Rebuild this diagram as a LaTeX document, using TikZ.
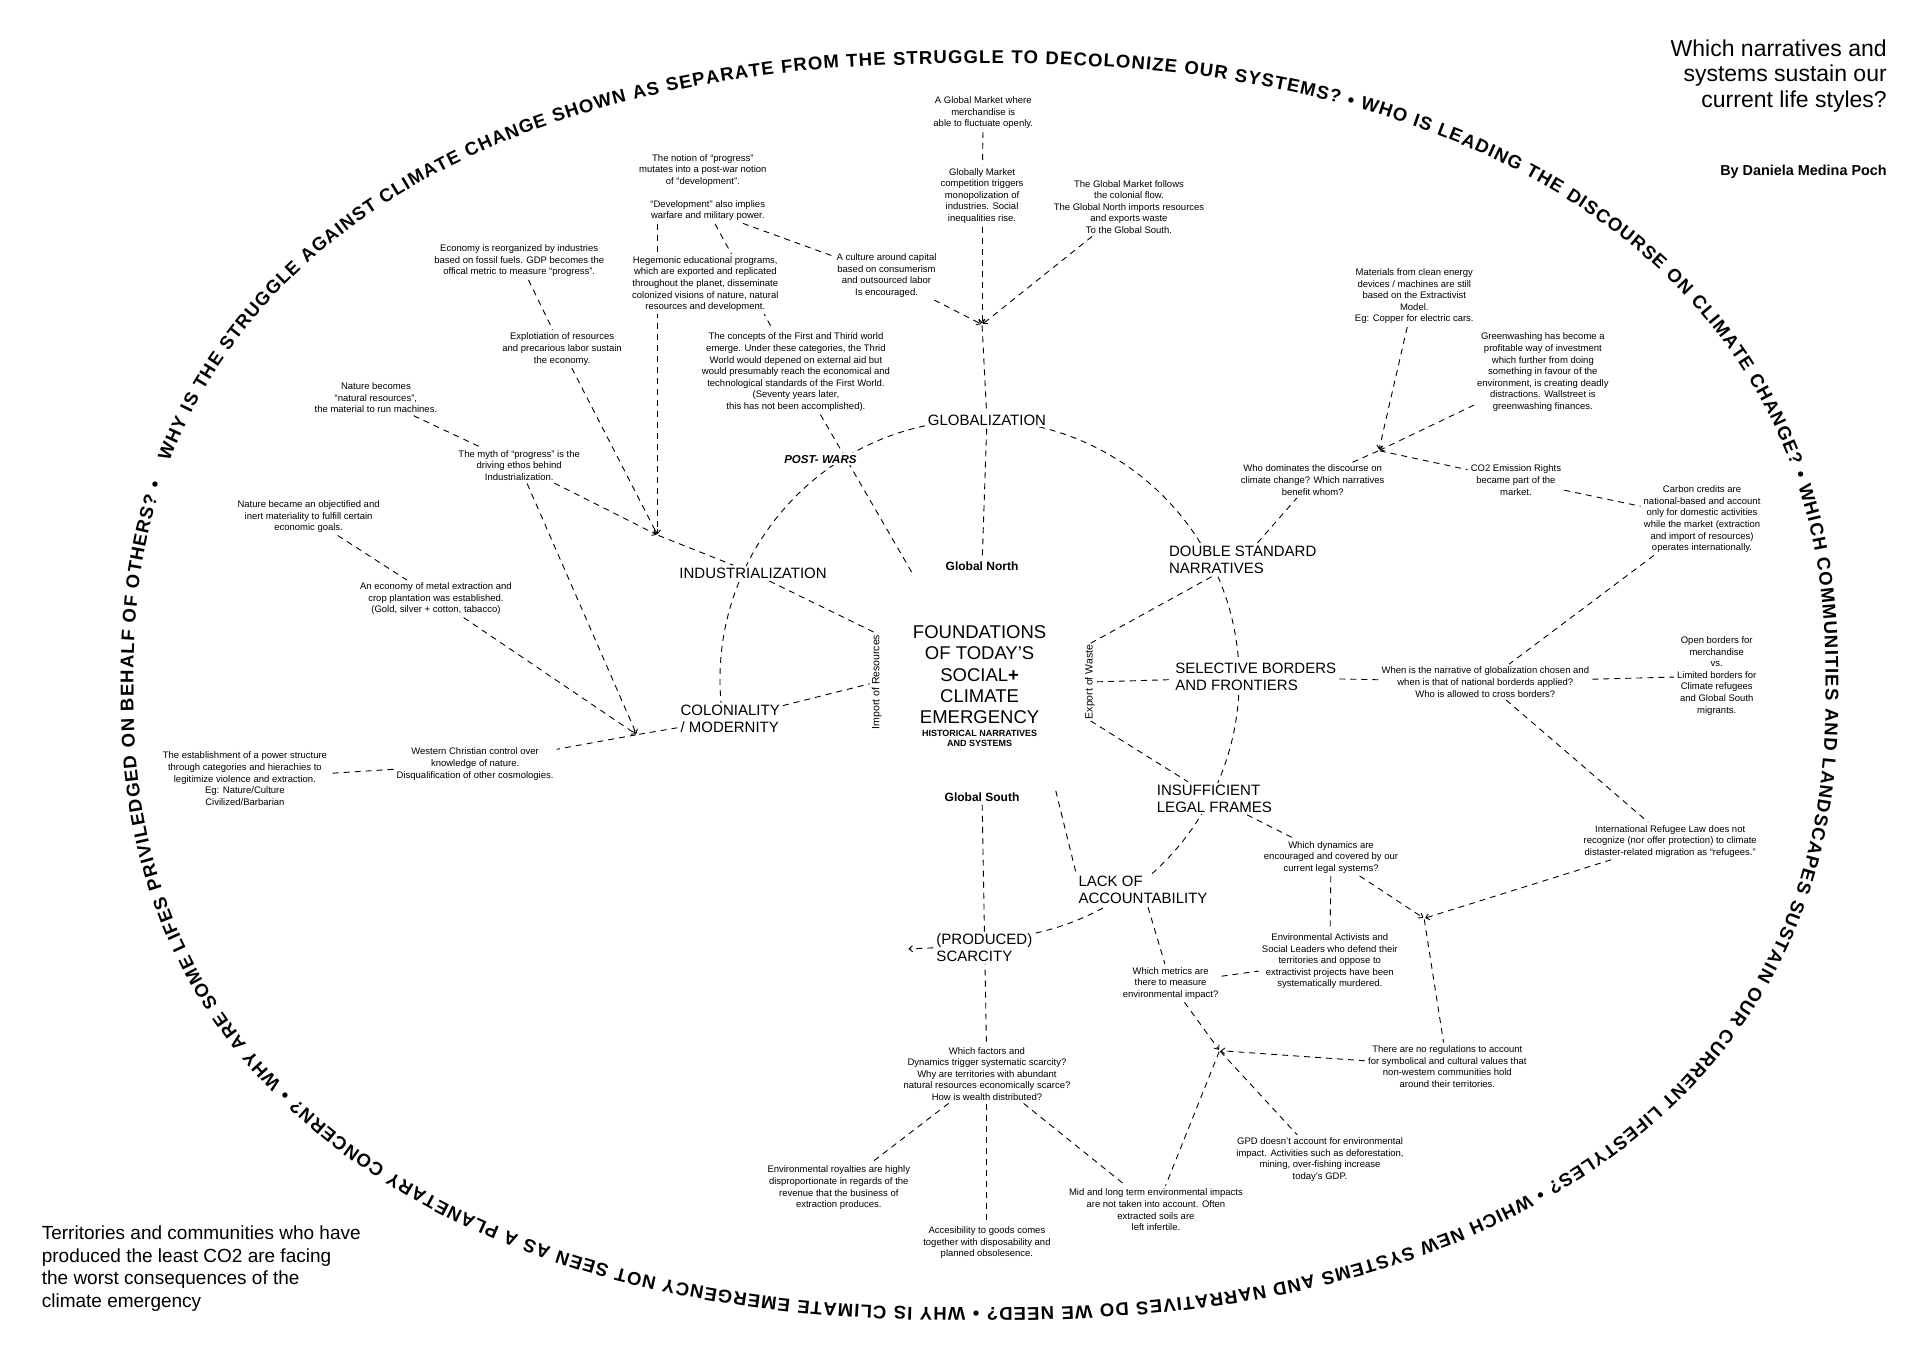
\documentclass[tikz,border=0pt]{standalone}
\usepackage{fontspec}
\setmainfont{Liberation Sans}
\usetikzlibrary{arrows.meta,decorations.text,backgrounds}
\tikzset{
    small-note/.style = {fill=white, inner sep=2pt, align=center, font=\fontsize{9.5}{11.6}\selectfont},
    theme-label/.style = {fill=white, inner sep=2pt, align=left, anchor=west, font=\fontsize{15}{17}\selectfont},
    core-title/.style = {fill=white, inner sep=2pt, align=center, font=\fontsize{18.5}{21.1}\selectfont},
    pole-label/.style = {fill=white, inner sep=2pt, font=\bfseries\fontsize{12}{14}\selectfont},
    flow-label/.style = {inner sep=1pt, rotate=90, font=\fontsize{10.5}{12}\selectfont},
    flow-link/.style = {draw, line width=0.9pt, dash pattern=on 6pt off 5pt, shorten >=1pt, shorten <=1pt},
    flow-into/.style = {-{Straight Barb[length=3.5pt, width=6pt]}},
    era-arc/.style = {draw, line width=0.9pt, dash pattern=on 6pt off 5pt},
}

\begin{document}
\begin{tikzpicture}[x=1.2245pt, y=1.2245pt]
\useasboundingbox (0,0) rectangle (1568,-1109);

\begin{scope}[shift={(800,-560)},
    declare function={supx(\t)=(cos(\t)<0 ? -1 : 1)*(abs(cos(\t))+0.00001)^0.87;
                       supy(\t)=(sin(\t)<0 ? -1 : 1)*(abs(sin(\t))+0.00001)^0.87;}]
\path [decorate, decoration={text along path, text align=fit to path,
    text={|\bfseries\fontsize{18.5}{18.5}\selectfont|WHY IS THE STRUGGLE AGAINST CLIMATE CHANGE SHOWN AS SEPARATE FROM THE STRUGGLE TO DECOLONIZE OUR SYSTEMS? • WHO IS LEADING THE DISCOURSE ON CLIMATE CHANGE? • WHICH COMMUNITIES AND LANDSCAPES SUSTAIN OUR CURRENT LIFESTYLES? • WHICH NEW SYSTEMS AND NARRATIVES DO WE NEED? • WHY IS CLIMATE EMERGENCY NOT SEEN AS A PLANETARY CONCERN? • WHY ARE SOME LIFES PRIVILEDGED ON BEHALF OF OTHERS? •}}]
    plot [domain=-162:196, samples=359] ({691*supx(-\x)}, {508*supy(-\x)});
\end{scope}

\node [anchor=east, align=right, inner sep=0pt, font=\fontsize{23}{25.5}\selectfont] (title) at (1541,-62) {Which narratives and\\systems sustain our\\current life styles?};
\node [anchor=east, inner sep=0pt, font=\bfseries\fontsize{14.4}{16}\selectfont] (byline) at (1541,-140) {By Daniela Medina Poch};
\node [anchor=west, align=left, inner sep=0pt, font=\fontsize{19}{22.4}\selectfont] (claim) at (34,-1036) {Territories and communities who have\\produced the least CO2 are facing\\the worst consequences of the\\climate emergency};

\coordinate (hub) at (800,-555);
\coordinate (jglob) at (802,-265);
\coordinate (jind) at (537,-437);
\coordinate (jcol) at (520,-600);
\coordinate (jdis) at (1126,-368);
\coordinate (jleg) at (1163,-750);
\coordinate (jgdp) at (996,-858);
\coordinate (postend) at (745,-468);
\coordinate (southspoke) at (862,-645);
\coordinate (flowend) at (741,-775);

\node [core-title] (found) at (800,-551) {FOUNDATIONS\\OF TODAY’S\\SOCIAL\textbf{+}\\CLIMATE\\EMERGENCY};
\node [small-note, font=\bfseries\fontsize{9}{10.7}\selectfont, inner sep=0pt] (foundsub) at (800,-603) {HISTORICAL NARRATIVES\\AND SYSTEMS};
\node [flow-label] (import) at (716,-557) {Import of Resources};
\node [flow-label] (export) at (890,-557) {Export of Waste};
\node [pole-label] (gnorth) at (802,-462) {Global North};
\node [pole-label] (gsouth) at (802,-651) {Global South};

\node [theme-label, anchor=center] (glob) at (806,-343) {GLOBALIZATION};
\node [theme-label, anchor=center, font=\bfseries\itshape\fontsize{11.5}{13}\selectfont] (postwars) at (670,-375) {POST- WARS};
\node [theme-label, anchor=center] (indust) at (615,-468) {INDUSTRIALIZATION};
\node [theme-label] (colon) at (554,-587) {COLONIALITY\\/ MODERNITY};
\node [theme-label] (double) at (953,-457) {DOUBLE STANDARD\\NARRATIVES};
\node [theme-label] (select) at (958,-553) {SELECTIVE BORDERS\\AND FRONTIERS};
\node [theme-label] (legal) at (943,-652) {INSUFFICIENT\\LEGAL FRAMES};
\node [theme-label] (lack) at (879,-727) {LACK OF\\ACCOUNTABILITY};
\node [theme-label] (scarce) at (763,-774) {(PRODUCED)\\SCARCITY};

\node [small-note] (gmarket) at (803,-92) {A Global Market where\\merchandise is\\able to fluctuate openly.};
\node [small-note] (gcompet) at (802,-160) {Globally Market\\competition triggers\\monopolization of\\industries. Social\\inequalities rise.};
\node [small-note] (gflow) at (922,-169) {The Global Market follows\\the colonial flow.\\The Global North imports resources\\and exports waste\\To the Global South.};
\node [small-note] (gculture) at (724,-225) {A culture around capital\\based on consumerism\\and outsourced labor\\Is encouraged.};

\node [small-note] (pwnotion) at (574,-139) {The notion of “progress”\\mutates into a post-war notion\\of “development”.};
\node [small-note] (pwdevel) at (578,-172) {“Development” also implies\\warfare and military power.};
\node [small-note] (pwhegem) at (576,-232) {Hegemonic educational programs,\\which  are exported and replicated\\throughout the planet, disseminate\\colonized visions of nature, natural\\resources and development.};
\node [small-note] (pwconcepts) at (650,-304) {The concepts of the First and Thirid world\\emerge. Under these categories, the Thrid\\World would depened on external aid but\\would presumably reach the economical and\\technological standards of the First World.\\(Seventy years later,\\this has not been accomplished).};

\node [small-note] (ineconomy) at (424,-213) {Economy is reorganized by industries\\based on fossil fuels. GDP becomes the\\offical metric to measure “progress”.};
\node [small-note] (inexploit) at (459,-285) {Explotiation of resources\\and precarious labor sustain\\the economy.};
\node [small-note] (innature) at (307,-325) {Nature becomes\\“natural resources”,\\the material to run machines.};
\node [small-note] (inmyth) at (424,-380) {The myth of “progress” is  the\\driving ethos behind\\Industrialization.};

\node [small-note] (coinert) at (252,-422) {Nature became an objectified and\\inert materiality to fulfill certain\\economic goals.};
\node [small-note] (cometal) at (356,-489) {An economy of metal extraction and\\crop plantation was established.\\(Gold, silver + cotton, tabacco)};
\node [small-note] (cowestern) at (388,-624) {Western Christian control over\\knowledge of nature.\\Disqualification of other cosmologies.};
\node [small-note] (copower) at (200,-636) {The establishment of a power structure\\through categories and hierachies to\\legitimize violence and extraction.\\Eg: Nature/Culture\\Civilized/Barbarian};

\node [small-note] (dswho) at (1072,-392) {Who dominates the discourse on\\climate change? Which narratives\\benefit whom?};
\node [small-note] (dsmaterial) at (1155,-242) {Materials from clean energy\\devices  / machines are still\\based on the Extractivist\\Model.\\Eg: Copper for electric cars.};
\node [small-note] (dsgreen) at (1260,-304) {Greenwashing has become a\\profitable way of investment\\which further from doing\\something in favour of the\\environment, is creating deadly\\distractions. Wallstreet is\\greenwashing finances.};
\node [small-note] (dsco2) at (1238,-392) {CO2 Emission Rights\\became part of the\\market.};
\node [small-note] (dscarbon) at (1390,-424) {Carbon credits are\\national-based and account\\only for domestic activities\\while the market (extraction\\and import of resources)\\operates internationally.};

\node [small-note] (sbwhen) at (1213,-557) {When is the narrative of globalization chosen and\\when is that of national borderds applied?\\Who is allowed to cross borders?};
\node [small-note] (sbopen) at (1402,-552) {Open borders for\\merchandise\\vs.\\Limited borders for\\Climate refugees\\and Global South\\migrants.};
\node [small-note] (sbrefugee) at (1364,-687) {International Refugee Law does not\\recognize (nor offer protection) to climate\\distaster-related migration as “refugees.”};

\node [small-note] (lfdynamics) at (1087,-700) {Which dynamics are\\encouraged and covered by our\\current legal systems?};
\node [small-note] (lfactivists) at (1086,-785) {Environmental Activists and\\Social Leaders who defend their\\territories and oppose to\\extractivist projects have been\\systematically murdered.};
\node [small-note] (lfregul) at (1182,-871) {There are no regulations to account\\for symbolical and cultural values that\\non-western communities hold\\around their territories.};

\node [small-note] (lametrics) at (956,-803) {Which metrics are\\there to measure\\environmental impact?};
\node [small-note] (lagdp) at (1078,-947) {GPD doesn’t account for environmental\\impact. Activities such as deforestation,\\mining, over-fishing increase\\today’s GDP.};
\node [small-note] (lamid) at (944,-988) {Mid and long term environmental impacts\\are not taken into account. Often\\extracted soils are\\left infertile.};

\node [small-note] (psfactors) at (806,-877) {Which factors and\\Dynamics trigger systematic scarcity?\\Why are territories with abundant\\natural resources economically scarce?\\How is wealth distributed?};
\node [small-note] (psroyal) at (685,-970) {Environmental royalties are highly\\disproportionate in regards of the\\revenue that the business of\\extraction produces.};
\node [small-note] (psaccess) at (806,-1015) {Accesibility to goods comes\\together with disposability and\\planned obsolesence.};

\begin{scope}[on background layer]
\draw [era-arc] (hub) ++(186:212) arc [start angle=186, end angle=-94, radius=212];
\draw [flow-link, flow-into] (scarce.west) -- (flowend);

\draw [flow-link] (gmarket) -- (gcompet);
\draw [flow-link, flow-into] (gcompet) -- (jglob);
\draw [flow-link, flow-into] (gculture) -- (jglob);
\draw [flow-link, flow-into] (gflow) -- (jglob);
\draw [flow-link] (jglob) -- (glob);
\draw [flow-link] (glob) -- (gnorth);
\draw [flow-link] (pwdevel) -- (gculture);
\draw [flow-link] (pwdevel) -- (pwconcepts);
\draw [flow-link] (pwconcepts) -- (postend);

\draw [flow-link] (ineconomy) -- (inexploit);
\draw [flow-link, flow-into] (inexploit) -- (jind);
\draw [flow-link, flow-into] (pwdevel.south -| jind) -- (jind);
\draw [flow-link] (innature) -- (inmyth);
\draw [flow-link, flow-into] (inmyth) -- (jind);
\draw [flow-link] (jind) -- (indust);
\draw [flow-link, flow-into] (inmyth) -- (jcol);
\draw [flow-link] (coinert) -- (cometal);
\draw [flow-link, flow-into] (cometal) -- (jcol);
\draw [flow-link] (colon) -- (jcol);
\draw [flow-link] (jcol) -- (cowestern);
\draw [flow-link] (cowestern) -- (copower);

\draw [flow-link] (indust) -- (import.east);
\draw [flow-link] (colon) -- (import);
\draw [flow-link] (export.east) -- (double);
\draw [flow-link] (export) -- (select);
\draw [flow-link] (export.west) -- (legal);

\draw [flow-link] (double) -- (dswho);
\draw [flow-link] (dswho) -- (jdis);
\draw [flow-link, flow-into] (dsmaterial) -- (jdis);
\draw [flow-link, flow-into] (dsgreen) -- (jdis);
\draw [flow-link] (jdis) -- (dsco2);
\draw [flow-link] (dsco2) -- (dscarbon);
\draw [flow-link] (dscarbon) -- (sbwhen);
\draw [flow-link] (select) -- (sbwhen);
\draw [flow-link] (sbwhen) -- (sbopen);
\draw [flow-link] (sbwhen) -- (sbrefugee);
\draw [flow-link, flow-into] (sbrefugee) -- (jleg);

\draw [flow-link] (legal) -- (lfdynamics);
\draw [flow-link, flow-into] (lfdynamics) -- (jleg);
\draw [flow-link] (lfdynamics) -- (lfactivists);
\draw [flow-link] (jleg) -- (lfregul);
\draw [flow-link] (lametrics) -- (lfactivists);
\draw [flow-link] (southspoke) -- (lack.north west);
\draw [flow-link] (lack) -- (lametrics);
\draw [flow-link, flow-into] (lametrics) -- (jgdp);
\draw [flow-link, flow-into] (lfregul) -- (jgdp);
\draw [flow-link] (jgdp) -- (lagdp);
\draw [flow-link] (jgdp) -- (lamid);

\draw [flow-link] (gsouth) -- (psfactors);
\draw [flow-link] (psfactors) -- (psroyal);
\draw [flow-link] (psfactors) -- (psaccess);
\draw [flow-link] (psfactors) -- (lamid);
\end{scope}
\end{tikzpicture}
\end{document}
